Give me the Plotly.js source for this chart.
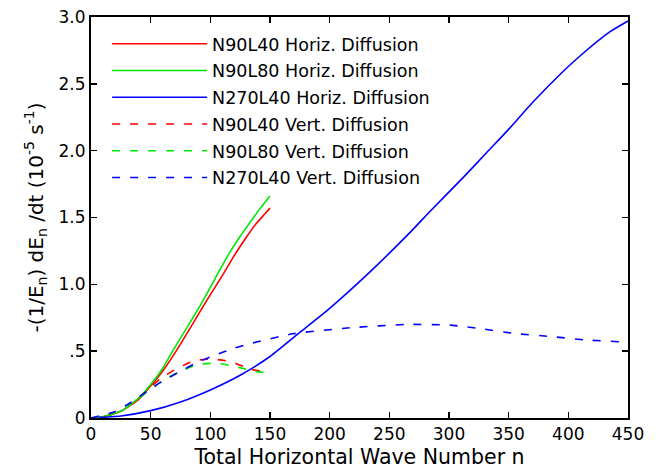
<!DOCTYPE html>
<html>
<head>
<meta charset="utf-8">
<script src="https://cdn.plot.ly/plotly-3.0.1.min.js"></script>
<style>html,body{margin:0;padding:0;background:#fff;}#chart{width:661px;height:469px;}</style>
</head>
<body>
<div id="chart"></div>
<script>
// N90L40 horizontal diffusion
const n_h90L40 = [0, 10, 25, 40, 50, 60, 72, 85, 97, 110, 119, 130, 138, 145, 150];
const v_h90L40 = [0, 0.01, 0.05, 0.14, 0.24, 0.35, 0.51, 0.70, 0.88, 1.065, 1.20, 1.35, 1.45, 1.52, 1.57];
// N90L80 horizontal diffusion
const n_h90L80 = [0, 10, 25, 40, 50, 60, 69, 82, 94, 105, 116, 125, 133, 142, 150];
const v_h90L80 = [0, 0.01, 0.05, 0.15, 0.25, 0.37, 0.51, 0.70, 0.88, 1.06, 1.235, 1.36, 1.46, 1.57, 1.66];
// N270L40 horizontal diffusion
const n_h270L40 = [0, 25, 50, 75, 100, 125, 150, 175, 200, 234, 267, 284, 312, 332, 349, 370, 393, 410, 435, 450];
const v_h270L40 = [0, 0.015, 0.055, 0.12, 0.21, 0.32, 0.46, 0.64, 0.82, 1.095, 1.385, 1.545, 1.80, 1.99, 2.15, 2.36, 2.57, 2.71, 2.89, 2.97];
// N90L40 vertical diffusion
const n_v90L40 = [0, 15, 30, 45, 59, 72, 87, 102, 118, 132, 150];
const v_v90L40 = [0, 0.02, 0.08, 0.19, 0.30, 0.37, 0.43, 0.44, 0.42, 0.37, 0.335];
// N90L80 vertical diffusion
const n_v90L80 = [0, 15, 30, 45, 60, 75, 90, 105, 121, 137, 150];
const v_v90L80 = [0, 0.02, 0.08, 0.18, 0.28, 0.35, 0.40, 0.41, 0.385, 0.35, 0.335];
// N270L40 vertical diffusion
const n_v270L40 = [0, 20, 34, 47, 59, 75, 90, 104, 119, 135, 169, 217, 265, 301, 329, 357, 385, 413, 443, 450];
const v_v270L40 = [0, 0.047, 0.12, 0.20, 0.27, 0.35, 0.42, 0.47, 0.52, 0.56, 0.63, 0.675, 0.70, 0.695, 0.665, 0.63, 0.61, 0.585, 0.57, 0.565];

const names = ["N90L40 Horiz. Diffusion", "N90L80 Horiz. Diffusion", "N270L40 Horiz. Diffusion",
               "N90L40 Vert. Diffusion", "N90L80 Vert. Diffusion", "N270L40 Vert. Diffusion"];
const xTicks = [0, 50, 100, 150, 200, 250, 300, 350, 400, 450];
const yTicks = [0, 0.5, 1.0, 1.5, 2.0, 2.5, 3.0];
const yTickText = ["0", ".5", "1.0", "1.5", "2.0", "2.5", "3.0"];

const RED = "#ff0000", GREEN = "#00e600", BLUE = "#0000ff";
const series = [
  [n_h90L40, v_h90L40, RED, "solid"],
  [n_h90L80, v_h90L80, GREEN, "solid"],
  [n_h270L40, v_h270L40, BLUE, "solid"],
  [n_v90L40, v_v90L40, RED, "8px,10px"],
  [n_v90L80, v_v90L80, GREEN, "8px,10px"],
  [n_v270L40, v_v270L40, BLUE, "8px,10px"]
];
const traces = series.map((s, i) => ({
  x: s[0], y: s[1], type: "scatter", mode: "lines", name: names[i],
  legendgroup: "g" + i,
  line: {color: s[2], width: 1.6, dash: s[3], shape: "spline", smoothing: 0.5}
}));

const FONT = "DejaVu Sans, sans-serif";
const axisCommon = {
  showline: true, linecolor: "#000", linewidth: 2, mirror: "ticks",
  ticks: "inside", ticklen: 6, tickwidth: 1.5, tickcolor: "#000",
  showgrid: false, zeroline: false,
  tickfont: {family: FONT, size: 17, color: "#000"}
};
const layout = {
  width: 661, height: 469,
  margin: {l: 91, r: 33, t: 17, b: 51},
  paper_bgcolor: "#fff", plot_bgcolor: "#fff",
  showlegend: true,
  legend: {x: 0.03, y: 0.978, xanchor: "left", yanchor: "top", bgcolor: "rgba(0,0,0,0)",
           font: {family: FONT, size: 17.5, color: "#000"}, itemwidth: 95, tracegroupgap: 1},
  xaxis: Object.assign({}, axisCommon, {
    range: [0, 450], tickvals: xTicks,
    title: {text: "Total Horizontal Wave Number n", font: {family: FONT, size: 20.5, color: "#000"}, standoff: 8}
  }),
  yaxis: Object.assign({}, axisCommon, {
    range: [0, 3.0], tickvals: yTicks, ticktext: yTickText,
    title: {text: "-(1/E<sub>n</sub>) dE<sub>n</sub> /dt (10<sup>-5</sup> s<sup>-1</sup>)", font: {family: FONT, size: 20, color: "#000"}, standoff: 10}
  })
};
Plotly.newPlot("chart", traces, layout, {displayModeBar: false, staticPlot: true});
</script>
</body>
</html>
